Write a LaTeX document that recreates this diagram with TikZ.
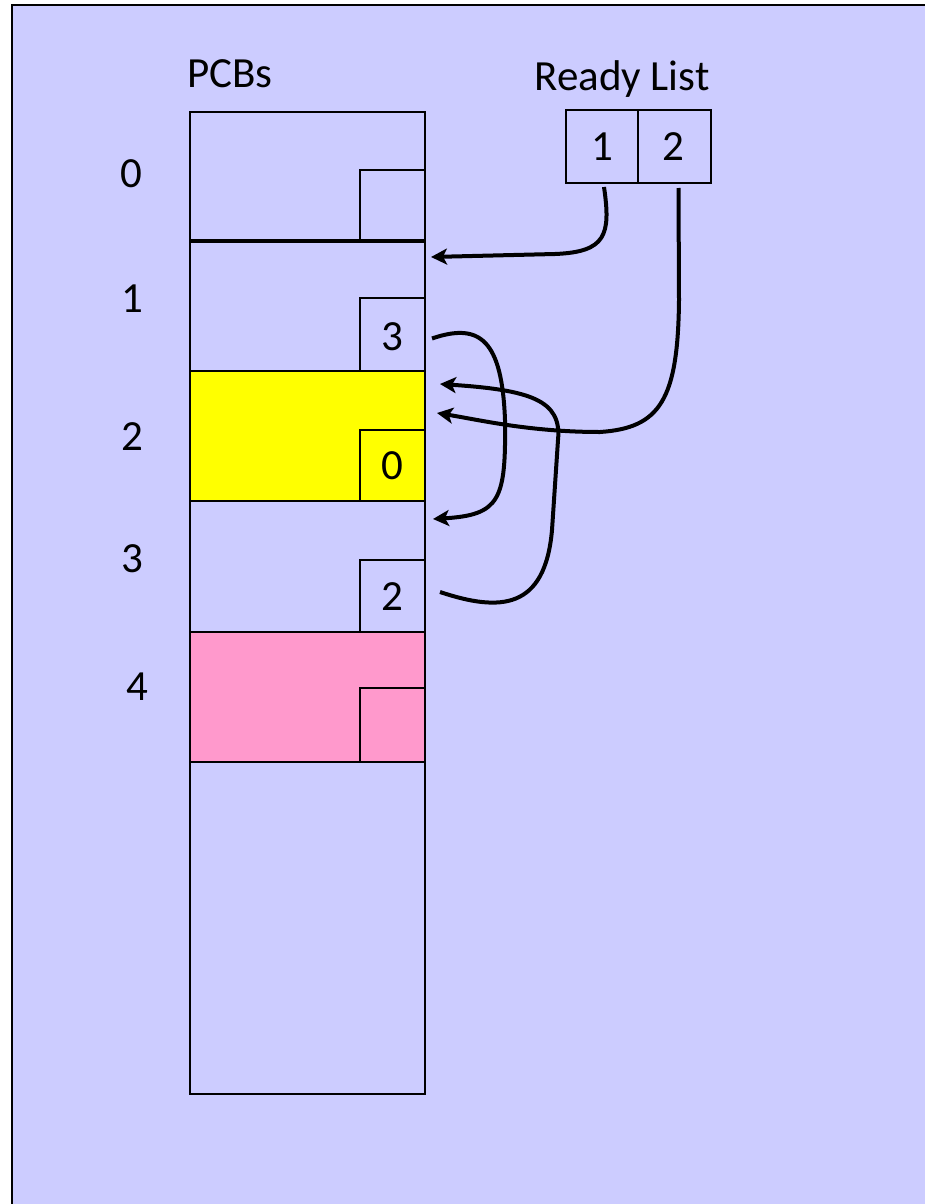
\documentclass[tikz,border=0pt]{standalone}
\usepackage{fontspec}
\setmainfont{Carlito}
\usetikzlibrary{arrows.meta,calc}
\definecolor{bg}{HTML}{CCCCFF}
\definecolor{pcbyellow}{HTML}{FFFF00}
\definecolor{pcbpink}{HTML}{FF99CC}
\begin{document}
\begin{tikzpicture}[x=1pt,y=-1pt,
  cell/.style={draw, line width=2pt, inner sep=0pt, outer sep=0pt, anchor=north west},
  slot/.style={draw, line width=2pt, inner sep=0pt, outer sep=0pt, anchor=south east, minimum width=65pt},
  lbl/.style={font=\fontsize{43}{50}\selectfont, inner sep=0pt, anchor=base},
  link/.style={line width=4pt, -{Stealth[length=16pt,width=16pt,inset=4pt]}}]

% page and framed slide background
\useasboundingbox (0,0) rectangle (925,1204);
\clip (0,0) rectangle (925,1204);
\fill[white] (0,0) rectangle (925,1204);
\filldraw[fill=bg, draw=black, line width=2.5pt] (12,5) rectangle (945,1225);

% PCB table
\node[cell, minimum width=235pt, minimum height=129pt] (row0) at (190,112) {};
\node[cell, minimum width=235pt, minimum height=130pt] (row1) at (190,241) {};
\node[cell, minimum width=235pt, minimum height=130pt, fill=pcbyellow, line width=2.5pt] (row2) at (190,371) {};
\node[cell, minimum width=235pt, minimum height=131pt] (row3) at (190,501) {};
\node[cell, minimum width=235pt, minimum height=130pt, fill=pcbpink, line width=2.5pt] (row4) at (190,632) {};
\node[cell, minimum width=235pt, minimum height=332pt] (rest) at (190,762) {};
\draw[line width=3.5pt] (row0.south west) -- (row0.south east);

% next-pointer slots
\node[slot, minimum height=71pt] (box0) at (row0.south east) {};
\node[slot, minimum height=73pt] (box1) at (row1.south east) {};
\node[slot, minimum height=71pt] (box2) at (row2.south east) {};
\node[slot, minimum height=72pt] (box3) at (row3.south east) {};
\node[slot, minimum height=74pt, line width=2.5pt] (box4) at (row4.south east) {};

\node[lbl] (v1) at (392,350) {3};
\node[lbl] (v2) at (392,479) {0};
\node[lbl] (v3) at (392,610) {2};

% ready list
\node[cell, minimum width=72pt, minimum height=73pt] (rl1) at (566,110) {};
\node[cell, minimum width=73pt, minimum height=73pt] (rl2) at (638,110) {};
\node[lbl] (r1) at (602,160) {1};
\node[lbl] (r2) at (673,160) {2};

% titles and indices
\node[lbl] (pcbs) at (230,88) {PCBs};
\node[lbl] (ready) at (622,91) {Ready List};
\node[lbl] (i0) at (131,187) {0};
\node[lbl] (i1) at (132,312) {1};
\node[lbl] (i2) at (132,450) {2};
\node[lbl] (i3) at (132,572) {3};
\node[lbl] (i4) at (137,700) {4};

% links
\coordinate (a1s) at ($(rl1.south)+(2,4)$);
\coordinate (a1e) at ($(row1.north east)+(6,16)$);
\coordinate (a2s) at ($(rl2.south)+(4,5)$);
\coordinate (a2e) at ($(row2.north east)+(12,42)$);
\coordinate (a3s) at ($(box1.east)+(7,4)$);
\coordinate (a3e) at ($(row3.north east)+(8,18)$);
\coordinate (a4s) at ($(box3.east)+(15,-4)$);
\coordinate (a4e) at ($(row2.north east)+(15,13)$);

\draw[link] (a1s) .. controls (611,235) and (606,252) .. (555,254) -- (a1e);
\draw[link] (a2s) -- (679,300) .. controls (678,400) and (660,428) .. (600,432)
  .. controls (530,432) and (480,420) .. (a2e);
\draw[link] (a3s) .. controls (480,322) and (502,340) .. (505,420)
  .. controls (506,500) and (500,515) .. (a3e);
\draw[link] (a4s) .. controls (500,612) and (545,610) .. (552,530) -- (558,440)
  .. controls (562,400) and (530,390) .. (a4e);
\end{tikzpicture}
\end{document}
